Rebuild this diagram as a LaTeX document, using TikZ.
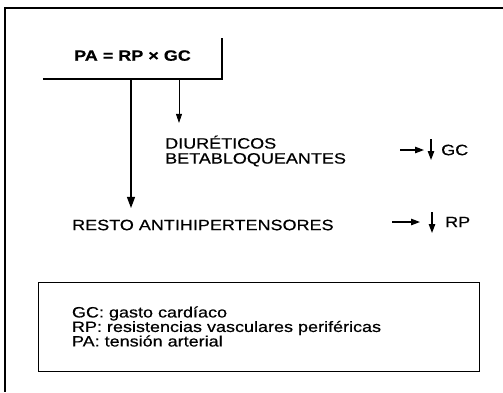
\documentclass[tikz,border=0pt]{standalone}
\usepackage{fontspec}
\setmainfont[FakeStretch=1.2,FakeBold=0.5]{Liberation Sans}
\usetikzlibrary{arrows.meta}
\begin{document}
\begin{tikzpicture}[>={Triangle[length=11pt,width=8pt]},x=1pt,y=-1pt,
 every node/.style={font=\fontsize{15}{15}\selectfont,inner sep=0pt},
 sym/.style={->,line width=1.2pt,>={Triangle[length=9pt,width=6.5pt]}}]
 \useasboundingbox (0,0) rectangle (503,392);
 % outer frame
 \draw[line width=1.8pt] (503,8) -- (5,8) -- (5,392);
 % formula
 \node[minimum width=179pt,minimum height=41pt,text depth=6pt] (pa) at (132.5,58.5)
 {\bfseries PA = RP × GC};
 \draw[line width=2.2pt] (pa.south west) -- (pa.south east) -- (pa.north east);
 % groups of drugs
 \node[anchor=west,align=left] (diur) at (165,151) {DIURÉTICOS\\BETABLOQUEANTES};
 \node[anchor=west] (resto) at (72,225) {RESTO ANTIHIPERTENSORES};
 \coordinate (p1) at (131,79);
 \coordinate (p2) at (179,79);
 \draw[->,line width=1.1pt,shorten >=11.5pt] (p1) -- (p1 |- resto.north);
 \draw[->,line width=0.7pt,>={Triangle[length=9pt,width=6pt]},shorten >=12.5pt]
 (p2) -- (p2 |- diur.north);
 % effects
 \node[anchor=west] (gc) at (441,150) {GC};
 \node[anchor=west] (rp) at (445,222) {RP};
 \draw[sym] ([xshift=-41pt]gc.west) -- ([xshift=-17pt]gc.west);
 \draw[sym] ([xshift=-10pt,yshift=11pt]gc.west) -- ([xshift=-10pt,yshift=-10pt]gc.west);
 \draw[sym] ([xshift=-53pt]rp.west) -- ([xshift=-25pt]rp.west);
 \draw[sym] ([xshift=-13pt,yshift=10pt]rp.west) -- ([xshift=-13pt,yshift=-11pt]rp.west);
 % legend
 \node[draw,line width=1pt,minimum width=441pt,minimum height=89pt,text width=373pt,
 align=left,font=\fontsize{15}{14.5}\selectfont] (leg) at (258.5,326.5)
 {GC: gasto cardíaco\\RP: resistencias vasculares periféricas\\PA: tensión arterial\\[3pt]};
\end{tikzpicture}
\end{document}
